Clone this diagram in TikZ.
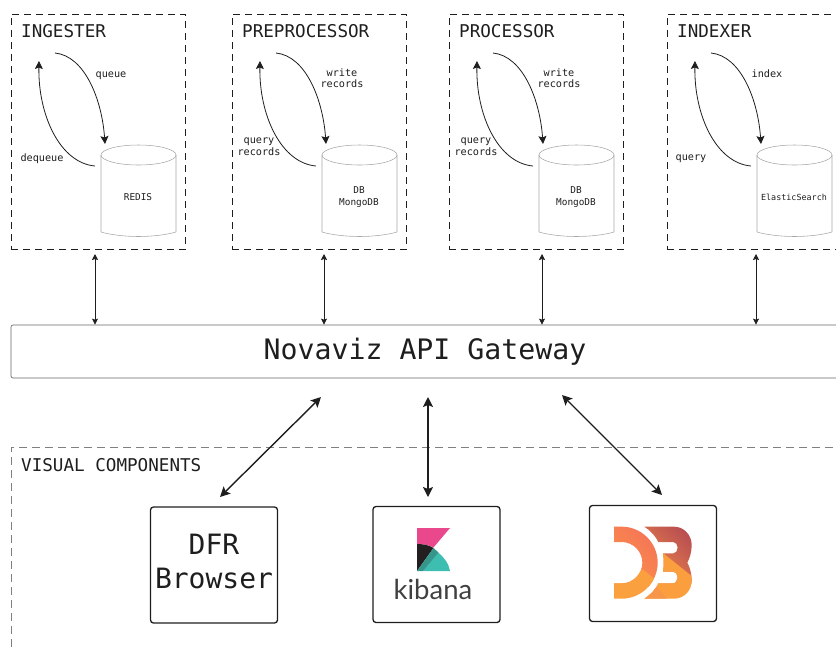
\documentclass[tikz,border=0pt]{standalone}
\usepackage{fontspec}
\setmainfont{DejaVu Sans Mono}
\newfontfamily\kibfont{Lato}
\usetikzlibrary{arrows.meta}
\definecolor{ink}{HTML}{1E1E1E}
\definecolor{kpink}{RGB}{233,72,140}
\definecolor{kblack}{RGB}{35,31,32}
\definecolor{kteal}{RGB}{62,190,176}
\definecolor{kdark}{RGB}{55,150,140}
\tikzset{
  x=1pt,y=-1pt,
  panelbox/.style={draw=ink,line width=.9pt,dash pattern=on 7pt off 5pt,minimum width=174.5pt,minimum height=235pt,inner sep=0pt,outer sep=0pt},
  paneltitle/.style={anchor=base west,font=\fontsize{17.6}{20}\selectfont,text=ink,inner sep=0pt},
  storeline/.style={draw=black!35,line width=.55pt},
  small/.style={font=\fontsize{10.2}{12}\selectfont,text=ink,align=center,inner sep=0pt},
  tiny/.style={font=\fontsize{9.4}{12}\selectfont,text=ink,align=center,inner sep=0pt},
  flow/.style={draw=ink,line width=.8pt,-{Stealth[length=8pt,width=8pt,inset=1.5pt]}},
  link/.style={draw=ink,line width=.7pt,{Stealth[length=6pt,width=6pt,inset=1pt]}-{Stealth[length=6pt,width=6pt,inset=1pt]}},
  biglink/.style={draw=ink,line width=1.4pt,{Stealth[length=10pt,width=10pt,inset=2pt]}-{Stealth[length=10pt,width=10pt,inset=2pt]}},
  gatewaybox/.style={draw=black!60,line width=.65pt,rounded corners=2pt,minimum width=828pt,minimum height=53pt,inner sep=0pt,font=\fontsize{28.2}{32}\selectfont,text=ink},
  visualbox/.style={draw=black!50,line width=.6pt,dash pattern=on 8pt off 5pt,minimum width=829pt,minimum height=230pt,inner sep=0pt},
  toolbox/.style={draw=ink,line width=1.3pt,rounded corners=3pt,minimum width=127pt,minimum height=116pt,inner sep=0pt,outer sep=0pt}
}
\newcommand\panel[3]{%
  \node[panelbox] (#1) at (#2+87.25,131.5) {};
  \node[paneltitle] (#1title) at (#2+10,37) {#3};
  \draw[storeline] (#2+127.5,155) ellipse [x radius=37.5,y radius=10];
  \draw[storeline] (#2+90,155) -- (#2+90,232) .. controls (#2+100,235) and (#2+115,236.5) .. (#2+127.5,236.5) .. controls (#2+140,236.5) and (#2+155,235) .. (#2+165,232) -- (#2+165,155);
  \coordinate (#1a) at (#2+44,53);
  \coordinate (#1b) at (#2+94,144);
  \coordinate (#1c) at (#2+84,166);
  \coordinate (#1d) at (#2+28,61);
  \draw[flow] (#1a) .. controls (#2+74,56) and (#2+91,100) .. (#1b);
  \draw[flow] (#1c) .. controls (#2+49,163) and (#2+27,115) .. (#1d);
}
\begin{document}
\begin{tikzpicture}
\useasboundingbox (0,0) rectangle (836,649);
\clip (0,0) rectangle (836,649);
\panel{ingester}{11}{INGESTER}
\panel{pre}{232}{PREPROCESSOR}
\panel{proc}{449}{PROCESSOR}
\panel{indexer}{667}{INDEXER}
\node[small] (l1) at (111,76) {queue};
\node[small] (l2) at (42,158.5) {dequeue};
\node[small] (l3) at (342,78) {write\\[-.5pt]records};
\node[small] (l4) at (259,146.5) {query\\[-.5pt]records};
\node[small] (l5) at (559,78) {write\\[-.5pt]records};
\node[small] (l6) at (476,146.5) {query\\[-.5pt]records};
\node[small] (l7) at (767,74) {index};
\node[small] (l8) at (691,159) {query};
\node[tiny] (t1) at (138,197) {REDIS};
\node[tiny] (t2) at (359,197) {DB\\MongoDB};
\node[tiny] (t3) at (576,197) {DB\\MongoDB};
\node[tiny,font=\fontsize{8.4}{10}\selectfont] (t4) at (794,197) {ElasticSearch};
\node[gatewaybox] (gateway) at (425,351.5) {Novaviz API Gateway};
\foreach \n/\xx in {ingester/95,pre/324,proc/542,indexer/756}{
  \coordinate (\n up) at (\xx,254);
  \draw[link] (\n up) -- (\n up |- gateway.north);
}
\node[visualbox] (visual) at (425.5,562) {};
\node[paneltitle] (visualtitle) at (21,471) {VISUAL COMPONENTS};
\node[toolbox] (dfr) at (214,565) {};
\node[align=center,font=\fontsize{28}{34}\selectfont,text=ink,inner sep=0pt] (dfrtext) at (214,561) {DFR\\Browser};
\node[toolbox] (kib) at (436.5,564.5) {};
\node[toolbox] (dthree) at (653,563.5) {};
\coordinate (g1) at (321,397); \coordinate (d1) at (220,497);
\coordinate (g2) at (428,397); \coordinate (d2) at (428,497);
\coordinate (g3) at (562,395); \coordinate (d3) at (662,495);
\draw[biglink] (g1) -- (d1);
\draw[biglink] (g2) -- (d2);
\draw[biglink] (g3) -- (d3);
% Kibana logo
\fill[kpink] (417,528) -- (450,528) -- (433.5,547.5) .. controls (429,545) and (423,544) .. (417,544) -- cycle;
\fill[kblack] (417,544) .. controls (423,544) and (429,545) .. (433.5,548) -- (417,571) -- cycle;
\fill[kteal] (423,571) -- (438,552.5) .. controls (444,557) and (449,564) .. (450,571) -- cycle;
\fill[kdark] (417,571) -- (433.5,548) .. controls (435,549.5) and (437,551) .. (438.5,552.5) -- (423,571) -- cycle;
\node[font=\kibfont\fontsize{27.5}{32}\selectfont,text=black!75,inner sep=0pt] (kibtext) at (433,589) {kibana};
% D3 logo
\begin{scope}[shift={(610,520)},x=.33333pt,y=-.33333pt]
  \begin{scope}
    \clip (12,20) -- (35,20) .. controls (94.6,20) and (143,68.4) .. (143,128) .. controls (143,187.6) and (94.6,236) .. (35,236) -- (12,236) -- (12,190) -- (35,190) .. controls (69,190) and (97,162) .. (97,128) .. controls (97,94) and (69,66) .. (35,66) -- (12,66) -- cycle;
    \shade[left color={rgb,255:red,245;green,115;blue,88},right color={rgb,255:red,250;green,145;blue,72},shading angle=-45] (0,10) rectangle (150,200);
    \fill[fill={rgb,255:red,250;green,160;blue,62}] (0,190) -- (55,190) -- (98,148) -- (150,190) -- (150,245) -- (0,245) -- cycle;
  \end{scope}
  \begin{scope}
    \clip (103,20) -- (192,20) .. controls (222,20) and (245,45) .. (245,75) .. controls (245,95) and (240,113) .. (232,128) .. controls (240,143) and (245,160) .. (245,182) .. controls (245,212) and (222,236) .. (192,236) -- (103,236) .. controls (122,224) and (137,207) .. (145,190) -- (190,190) .. controls (197,190) and (203,180) .. (203,172) .. controls (203,163) and (197,155) .. (190,155) -- (159,155) .. controls (162,137) and (162,118) .. (159,100) -- (190,100) .. controls (197,100) and (203,92) .. (203,83) .. controls (203,74) and (197,66) .. (190,66) -- (145,66) .. controls (137,49) and (122,32) .. (103,20) -- cycle;
    \shade[left color={rgb,255:red,184;green,78;blue,81},right color={rgb,255:red,238;green,135;blue,75},shading angle=-45] (100,10) rectangle (250,190);
    \fill[fill={rgb,255:red,250;green,158;blue,62}] (160,100) -- (250,172) -- (250,245) -- (100,245) -- (100,100) -- cycle;
    \fill[fill={rgb,255:red,247;green,150;blue,74}] (100,245) -- (100,225) -- (140,200) -- (178,245) -- cycle;
  \end{scope}
\end{scope}
\end{tikzpicture}
\end{document}
